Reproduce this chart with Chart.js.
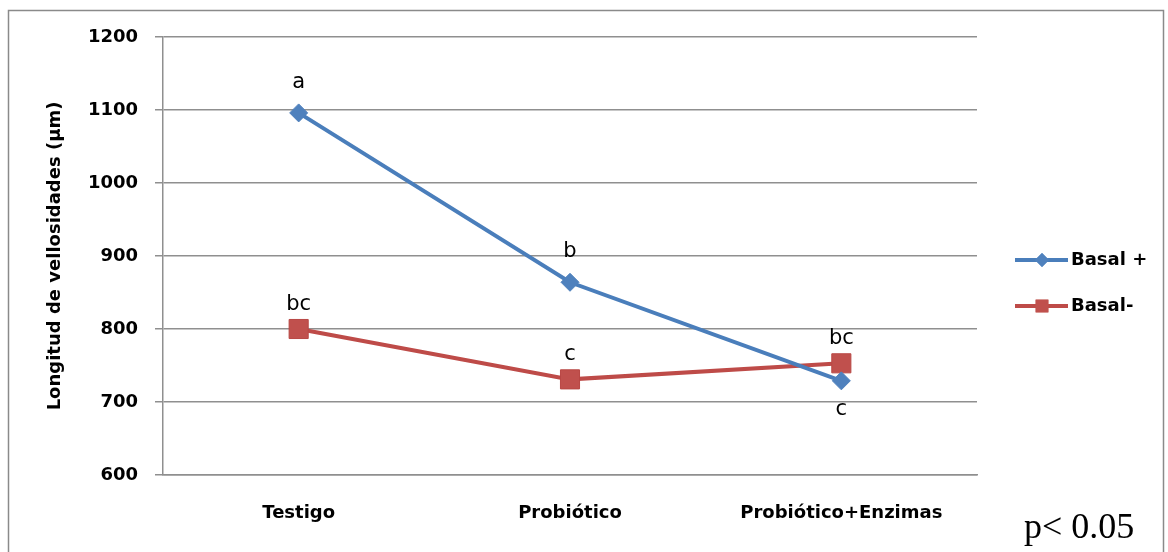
<!DOCTYPE html>
<html>
<head>
<meta charset="utf-8">
<script src="https://cdn.jsdelivr.net/npm/chart.js@4.4.0/dist/chart.umd.min.js"></script>
<style>
  html, body { margin: 0; padding: 0; background: #fff; }
  #wrap { position: relative; width: 1168px; height: 552px; }
</style>
</head>
<body>
<div id="wrap"><canvas id="chart" width="1168" height="552"></canvas></div>
<script>
// Villus length by treatment, two basal diets
const categories = ['Testigo', 'Probiótico', 'Probiótico+Enzimas'];
const basalPlus = [1096, 864, 729];
const basalMinus = [800, 731, 753];
const basalPlusLetters = ['a', 'b', 'c'];
const basalMinusLetters = ['bc', 'c', 'bc'];
const basalPlusLetterSide = ['above', 'above', 'below'];
const basalMinusLetterSide = ['above', 'above', 'above'];
const seriesNames = ['Basal +', 'Basal-'];
const yTicks = [600, 700, 800, 900, 1000, 1100, 1200];
const yTitle = 'Longitud de vellosidades (µm)';
const pValueNote = 'p< 0.05';

const BLUE = '#4A7EBB';
const BLUE_PT = '#4F81BD';
const RED = '#BE4B48';
const RED_PT = '#C0504D';
const GRID = '#8f8f8f';
const AXIS_FONT = { family: '"DejaVu Sans", sans-serif', size: 18, weight: 'bold' };

// white page + outer frame
const framePlugin = {
  id: 'frame',
  beforeDraw(chart) {
    const ctx = chart.ctx;
    ctx.save();
    ctx.fillStyle = '#fff';
    ctx.fillRect(0, 0, chart.width, chart.height);
    ctx.strokeStyle = '#8a8a8a';
    ctx.lineWidth = 1.5;
    ctx.strokeRect(8.5, 10.5, 1155, 560);
    ctx.restore();
  }
};

// significance letters next to each point
const letterPlugin = {
  id: 'letters',
  afterDatasetsDraw(chart) {
    const ctx = chart.ctx;
    const sets = [
      { idx: 0, letters: basalPlusLetters, sides: basalPlusLetterSide, above: 25 },
      { idx: 1, letters: basalMinusLetters, sides: basalMinusLetterSide, above: 19 }
    ];
    ctx.save();
    ctx.font = '21px "DejaVu Sans", sans-serif';
    ctx.fillStyle = '#000';
    ctx.textAlign = 'center';
    ctx.textBaseline = 'alphabetic';
    sets.forEach(s => {
      const meta = chart.getDatasetMeta(s.idx);
      meta.data.forEach((pt, i) => {
        const y = s.sides[i] === 'below' ? pt.y + 34 : pt.y - s.above;
        ctx.fillText(s.letters[i], pt.x, y);
      });
    });
    ctx.restore();
  }
};

// legend with line + marker, and p-value note
const legendPlugin = {
  id: 'sideLegend',
  afterDraw(chart) {
    const ctx = chart.ctx;
    ctx.save();
    const x0 = 1015, x1 = 1068, xm = 1042;
    const rows = [260, 306];
    chart.data.datasets.forEach((ds, i) => {
      const y = rows[i];
      ctx.strokeStyle = ds.borderColor;
      ctx.lineWidth = 4;
      ctx.beginPath();
      ctx.moveTo(x0, y);
      ctx.lineTo(x1, y);
      ctx.stroke();
      ctx.fillStyle = ds.pointBackgroundColor;
      Chart.helpers.drawPoint(ctx, {
        pointStyle: ds.pointStyle,
        radius: i === 0 ? 7 : 9,
        rotation: 0,
        borderWidth: 0
      }, xm, y);
      ctx.fill();
      ctx.fillStyle = '#000';
      ctx.font = 'bold 18px "DejaVu Sans", sans-serif';
      ctx.textAlign = 'left';
      ctx.textBaseline = 'middle';
      ctx.fillText(ds.label, 1071, y);
    });
    ctx.font = '36px "Liberation Serif", "Times New Roman", serif';
    ctx.textAlign = 'left';
    ctx.textBaseline = 'alphabetic';
    ctx.fillStyle = '#000';
    ctx.fillText(pValueNote, 1024, 538);
    ctx.restore();
  }
};

new Chart(document.getElementById('chart'), {
  type: 'line',
  data: {
    labels: categories,
    datasets: [
      {
        label: seriesNames[0],
        data: basalPlus,
        borderColor: BLUE,
        backgroundColor: BLUE_PT,
        pointBackgroundColor: BLUE_PT,
        pointBorderColor: BLUE_PT,
        pointStyle: 'rectRot',
        pointRadius: 9,
        pointBorderWidth: 1,
        borderWidth: 4,
        tension: 0
      },
      {
        label: seriesNames[1],
        data: basalMinus,
        borderColor: RED,
        backgroundColor: RED_PT,
        pointBackgroundColor: RED_PT,
        pointBorderColor: '#b84744',
        pointStyle: 'rect',
        pointRadius: 13.5,
        pointBorderWidth: 1,
        borderWidth: 4,
        tension: 0
      }
    ]
  },
  options: {
    responsive: false,
    animation: false,
    events: [],
    layout: { padding: { left: 0, top: 37, right: 191, bottom: 0 } },
    plugins: {
      legend: { display: false },
      tooltip: { enabled: false }
    },
    scales: {
      x: {
        type: 'category',
        offset: true,
        grid: { display: false, drawTicks: false },
        border: { display: true, color: GRID, width: 1.5 },
        ticks: { color: '#000', font: AXIS_FONT, padding: 28, maxRotation: 0 },
        afterFit(scale) { scale.height = 77; }
      },
      y: {
        min: 600,
        max: 1200,
        afterBuildTicks(scale) { scale.ticks = yTicks.map(v => ({ value: v })); },
        grid: { color: GRID, lineWidth: 1.5, tickLength: 8, drawTicks: true },
        border: { display: true, color: GRID, width: 1.5 },
        ticks: {
          color: '#000',
          font: AXIS_FONT,
          padding: 17,
          callback: (v) => String(v)
        },
        title: {
          display: true,
          text: yTitle,
          color: '#000',
          font: AXIS_FONT,
          padding: { top: 45, bottom: 0 }
        },
        afterFit(scale) { scale.width = 163; }
      }
    }
  },
  plugins: [framePlugin, letterPlugin, legendPlugin]
});
</script>
</body>
</html>
